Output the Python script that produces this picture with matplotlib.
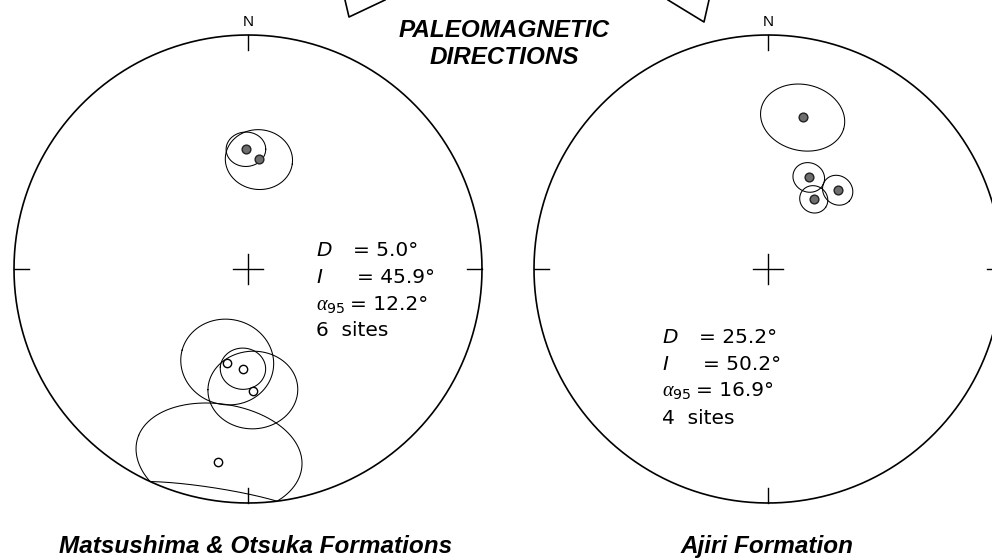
import numpy as np
import matplotlib.pyplot as plt
from matplotlib.lines import Line2D

plt.rcParams['font.family'] = ['Liberation Sans', 'DejaVu Sans']
plt.rcParams['mathtext.fontset'] = 'custom'
plt.rcParams['mathtext.rm'] = 'DejaVu Sans'
plt.rcParams['mathtext.it'] = 'Liberation Serif:italic'

# site mean directions (declination, inclination, alpha95), degrees
left_n_dec = [359.0, 5.7]
left_n_inc = [47.5, 51.0]
left_n_a95 = [6.4, 11.0]
left_r_dec = [192.6, 182.9, 177.7, 188.8]
left_r_inc = [-56.2, -54.8, -46.7, -17.5]
left_r_a95 = [15.5, 7.5, 14.5, 23.5]

right_dec = [12.9, 24.0, 41.5, 33.3]
right_inc = [33.6, 54.7, 52.9, 60.8]
right_a95 = [13.0, 5.3, 5.2, 4.8]

left_stats = ['5.0', '45.9', '12.2']
left_sites = 6
right_stats = ['25.2', '50.2', '16.9']
right_sites = 4

W, H = 992, 560
R = 234
fig = plt.figure(figsize=(9.92, 5.6), dpi=100)


def to_xy(dec, inc):
    # equal-area projection, all points folded onto one hemisphere
    dec = np.radians(dec)
    inc = np.radians(np.abs(inc))
    r = np.sqrt(2) * np.sin((np.pi / 2 - inc) / 2)
    return r * np.sin(dec), r * np.cos(dec)


def cone(dec, inc, a95, n=721):
    d, i = np.radians(dec), np.radians(inc)
    v = np.array([np.cos(i) * np.sin(d), np.cos(i) * np.cos(d), np.sin(i)])
    u1 = np.array([np.cos(d), -np.sin(d), 0.0])
    u2 = np.cross(v, u1)
    t = np.linspace(0, 2 * np.pi, n)
    a = np.radians(a95)
    p = np.cos(a) * v[:, None] + np.sin(a) * (np.outer(u1, np.cos(t)) + np.outer(u2, np.sin(t)))
    pdec = np.degrees(np.arctan2(p[0], p[1]))
    pinc = np.degrees(np.arcsin(np.clip(p[2], -1, 1)))
    return to_xy(pdec, pinc)


def net(cx, cy):
    pad = 1.1
    ax = fig.add_axes([(cx - pad * R) / W, 1 - (cy + pad * R) / H,
                       2 * pad * R / W, 2 * pad * R / H])
    ax.set_xlim(-pad, pad)
    ax.set_ylim(-pad, pad)
    ax.axis('off')
    t = np.linspace(0, 2 * np.pi, 721)
    ax.plot(np.cos(t), np.sin(t), color='black', lw=1.2)
    tk = 0.065
    for x0, y0, x1, y1 in [(0, 1, 0, 1 - tk), (0, -1, 0, -1 + tk),
                           (1, 0, 1 - tk, 0), (-1, 0, -1 + tk, 0)]:
        ax.plot([x0, x1], [y0, y1], color='black', lw=1.0)
    c = 0.062
    ax.plot([-c, c], [0, 0], color='black', lw=1.0)
    ax.plot([0, 0], [-c, c], color='black', lw=1.0)
    fig.text(cx / W, 1 - 22 / H, 'N', ha='center', va='center', fontsize=11)
    return ax


def sites(ax, decs, incs, a95s, filled):
    for d, i, a in zip(decs, incs, a95s):
        x, y = cone(d, i, a)
        ax.plot(x, y, color='black', lw=0.75)
    x, y = to_xy(np.array(decs), np.array(incs))
    if filled:
        ax.plot(x, y, 'o', ms=6.3, mfc='#6e6e6e', mec='#222222', mew=1.0, zorder=5)
    else:
        ax.plot(x, y, 'o', ms=6, mfc='white', mec='black', mew=1.0, zorder=5)


def stats(x0, ys, vals, n):
    labels = ['D', 'I', r'$\alpha_{95}$']
    eq_dx = [37, 41, 34]
    sf = dict(fontsize=14.5, family='DejaVu Sans', va='baseline')
    for lab, y, dx, v in zip(labels, ys, eq_dx, vals):
        st = 'normal' if lab.startswith('$') else 'italic'
        fig.text(x0 / W, 1 - y / H, lab, fontstyle=st, **sf)
        fig.text((x0 + dx) / W, 1 - y / H, '= ' + v + '\u00b0', **sf)
    fig.text(x0 / W, 1 - ys[3] / H, f'{n}  sites', **sf)


axl = net(248, 269)
sites(axl, left_n_dec, left_n_inc, left_n_a95, True)
sites(axl, left_r_dec, left_r_inc, left_r_a95, False)
stats(316, [256, 283, 310, 336], left_stats, left_sites)

axr = net(768, 269)
sites(axr, right_dec, right_inc, right_a95, True)
stats(662, [343, 370, 396, 424], right_stats, right_sites)

bi = dict(fontsize=17.5, fontweight='bold', fontstyle='italic', ha='center', va='baseline')
fig.text(504 / W, 1 - 37 / H, 'PALEOMAGNETIC', **bi)
fig.text(504 / W, 1 - 64 / H, 'DIRECTIONS', **bi)
fig.text(256 / W, 1 - 553 / H, 'Matsushima & Otsuka Formations', **bi)
fig.text(767 / W, 1 - 553 / H, 'Ajiri Formation', **bi)

# pieces of the arrows cut off at the top edge
for px, py in [([345, 349, 385], [0, 17, 0]), ([668, 704, 709], [0, 22, 0])]:
    fig.add_artist(Line2D(np.array(px) / W, 1 - np.array(py) / H,
                          color='black', lw=1.2))

fig.savefig('out.png', dpi=100, facecolor='white')
